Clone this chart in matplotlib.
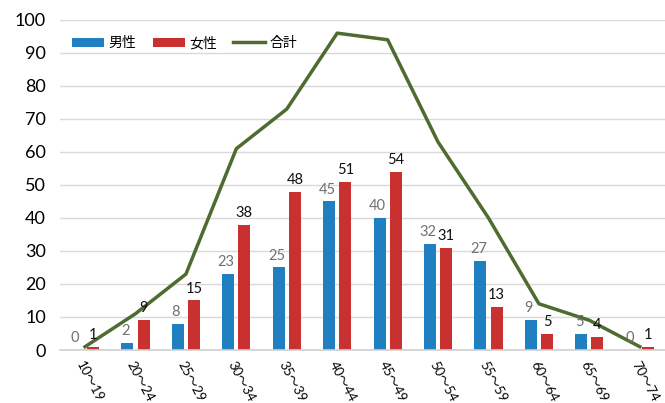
import numpy as np
import matplotlib.pyplot as plt

plt.rcParams['font.family'] = ['Lato', 'Noto Sans CJK JP', 'DejaVu Sans']

ages = ['10～19', '20～24', '25～29', '30～34', '35～39', '40～44',
        '45～49', '50～54', '55～59', '60～64', '65～69', '70～74']
male = [0, 2, 8, 23, 25, 45, 40, 32, 27, 9, 5, 0]
female = [1, 9, 15, 38, 48, 51, 54, 31, 13, 5, 4, 1]
total = [m + f for m, f in zip(male, female)]

x = np.arange(len(ages))
w = 0.24

fig = plt.figure(figsize=(6.65, 4.03), dpi=100)
ax = fig.add_axes([0.09, 0.1315, 0.91, 0.819])

b1 = ax.bar(x - 0.16, male, w, color='#1f7fc0', label='男性', zorder=2)
b2 = ax.bar(x + 0.16, female, w, color='#c8312f', label='女性', zorder=2)
l1, = ax.plot(x, total, color='#4e6b30', lw=2.5, label='合計', zorder=3)

for i in range(len(x)):
    ax.text(x[i] - 0.2, male[i] + 1.5, str(male[i]), ha='center', va='bottom',
            fontsize=10.5, color='#707070', zorder=4)
    ax.text(x[i] + 0.16, female[i] + 1.5, str(female[i]), ha='center', va='bottom',
            fontsize=10.5, color='#111111', zorder=4)

ax.set_xlim(-0.5, len(x) - 0.5)
ax.set_ylim(0, 100)
ax.set_yticks(range(0, 101, 10))
ax.tick_params(axis='y', labelsize=13, length=0, pad=10)
ax.set_xticks(x)
ax.set_xticklabels(ages, rotation=-62, ha='left', rotation_mode='anchor', fontsize=9.5)
ax.tick_params(axis='x', length=0, pad=7)
ax.grid(axis='y', color='#d9d9d9', lw=1, zorder=0)
for s in ['top', 'right', 'left']:
    ax.spines[s].set_visible(False)
ax.spines['bottom'].set_color('#d0d0d0')
ax.spines['bottom'].set_linewidth(1.2)

ax.legend([b1, b2, l1], ['男性', '女性', '合計'], loc='upper left',
          bbox_to_anchor=(0.0, 0.99), ncol=3, frameon=False,
          fontsize=10, handlelength=2.3, columnspacing=1.2, handletextpad=0.3)

fig.savefig('out.png', dpi=100)
